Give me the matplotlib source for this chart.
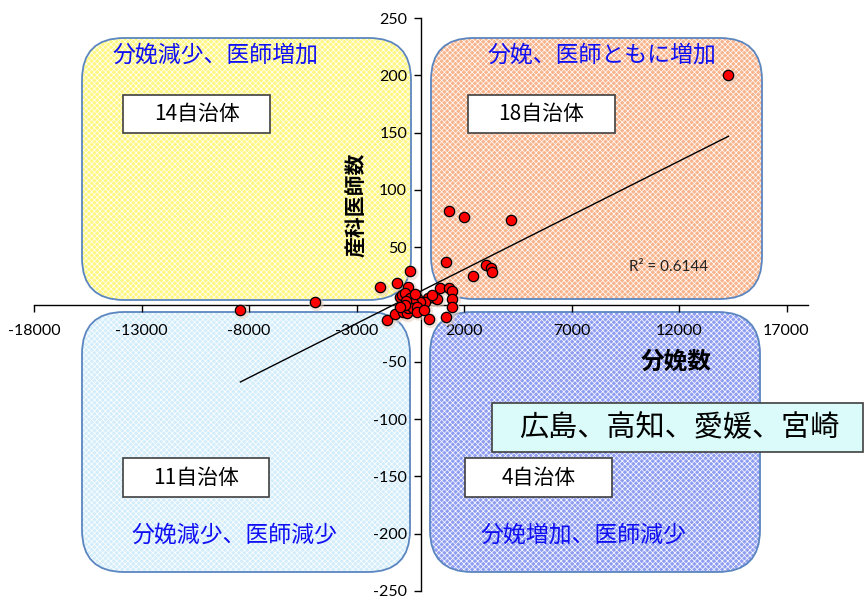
import matplotlib
matplotlib.use('Agg')
import matplotlib.pyplot as plt
from matplotlib.patches import FancyBboxPatch, Rectangle
import numpy as np

# ---- data (births change, obstetricians change) ----
q1_x = [14300, 1300, 2000, 4200, 1150, 3000, 3250, 3300, 2400, 880, 1300, 1450, 1450, 650, 340, 750, 180, 500]
q1_y = [200, 82, 76, 73.5, 37, 34.5, 31.5, 28, 24.5, 14.7, 14, 11.5, 5, 6, 6, 5, 2.4, 8]
q2_x = [-4930, -1900, -1130, -590, -510, -980, -900, -740, -510, -200, -50, -360, -700, -300]
q2_y = [2, 15, 18.5, 15, 29, 6.8, 8.5, 10, 5.4, 5.4, 2.4, 1, 3, 9]
q3_x = [-8400, -1600, -1210, -820, -670, -590, -360, -200, -200, -740, -1000]
q3_y = [-4.8, -13.5, -8.5, -6.3, -7.7, -3.3, -3.3, -1.9, -6.3, -0.5, -2]
q4_x = [1180, 1420, 360, 150]
q4_y = [-10.6, -2.6, -12.7, -4.5]

x_ticks = [-18000, -13000, -8000, -3000, 2000, 7000, 12000, 17000]
y_ticks = [-250, -200, -150, -100, -50, 0, 50, 100, 150, 200, 250]
x_label = "分娩数"
y_label = "産科医師数"
r2_label = "R² = 0.6144"
quad_titles = ["分娩減少、医師増加", "分娩、医師ともに増加", "分娩減少、医師減少", "分娩増加、医師減少"]
quad_counts = ["14自治体", "18自治体", "11自治体", "4自治体"]
callout = "広島、高知、愛媛、宮崎"

plt.rcParams['font.family'] = ['Lato', 'Noto Sans CJK JP']
CJK = ['Noto Sans CJK JP', 'DejaVu Sans']

W, H = 864, 603
fig = plt.figure(figsize=(W / 100, H / 100), dpi=100)
fig.patch.set_facecolor('white')

def inch(px, py):
    return px / 100.0, (H - py) / 100.0

def fx(px):
    return px / W

def fy(py):
    return 1 - py / H

# ---- quadrant rounded boxes (in figure pixel space) ----
boxes = [
    (82, 38, 411, 300, '#FFF77F'),   # yellow
    (431, 38, 762, 299, '#F8B48C'),  # orange
    (82, 312, 410, 572, '#D3EDFB'),  # light blue
    (430, 312, 760, 572, '#909EF2'), # blue
]
plt.rcParams['hatch.linewidth'] = 0.5
for (l, t, r, b, fc) in boxes:
    x0, y0 = inch(l, b)
    w = (r - l) / 100.0
    h = (b - t) / 100.0
    p = FancyBboxPatch((x0, y0), w, h, boxstyle='round,pad=0,rounding_size=0.42',
                       transform=fig.dpi_scale_trans, facecolor=fc, edgecolor='white',
                       linewidth=0, hatch='xxxxxx', zorder=-3)
    fig.add_artist(p)
    p2 = FancyBboxPatch((x0, y0), w, h, boxstyle='round,pad=0,rounding_size=0.42',
                        transform=fig.dpi_scale_trans, facecolor='none', edgecolor='#5B86C0',
                        linewidth=1.3, zorder=-2)
    fig.add_artist(p2)

# ---- axes ----
ax = fig.add_axes([34 / W, 1 - 591 / H, 774 / W, 573 / H])
ax.set_facecolor('none')
ax.set_xlim(-18000, 18000)
ax.set_ylim(-250, 250)
for s in ['top', 'right']:
    ax.spines[s].set_visible(False)
ax.spines['left'].set_position(('data', 0))
ax.spines['bottom'].set_position(('data', 0))
for s in ['left', 'bottom']:
    ax.spines[s].set_linewidth(1.0)
    ax.spines[s].set_color('black')
ax.set_xticks(x_ticks)
ax.set_xticklabels([str(v) for v in x_ticks])
ax.set_yticks(y_ticks)
ax.set_yticklabels([str(v) for v in y_ticks])
ax.tick_params(axis='x', direction='out', length=5, width=1, pad=9, labelsize=11.5)
ax.tick_params(axis='y', direction='out', length=5, width=1, pad=5, labelsize=11.5)

xs = np.array(q1_x + q2_x + q3_x + q4_x, dtype=float)
ys = np.array(q1_y + q2_y + q3_y + q4_y, dtype=float)

# soft shadow + markers
ax.scatter(xs + 70, ys - 1.5, s=110, c='#E9CDBE', alpha=0.55, edgecolors='none', zorder=4)
ax.scatter(xs, ys, s=55, c='#FF0000', edgecolors='black', linewidths=0.9, zorder=6)

coef = np.polyfit(xs, ys, 1)
lx = np.array([xs.min(), xs.max()])
ax.plot(lx, np.polyval(coef, lx), color='black', linewidth=1.0, zorder=5)

fig.text(fx(669), fy(267), r2_label, ha='center', va='center',
         fontsize=11, color='#222222')

# axis labels
fig.text(fx(676), fy(362), x_label, ha='center', va='center', fontsize=17,
         fontweight='bold', family=CJK)
fig.text(fx(357), fy(205), y_label, ha='center', va='center', fontsize=15,
         fontweight='bold', rotation=90, family=CJK)

# quadrant titles
title_pos = [(215, 55), (602, 55), (234, 535), (583, 535)]
for (px, py), t in zip(title_pos, quad_titles):
    fig.text(fx(px), fy(py), t, ha='center', va='center', fontsize=16.5,
             color='#1010F2', family=CJK, zorder=10)

# count boxes
count_boxes = [(123, 95, 270, 133), (468, 95, 615, 133), (123, 458, 269, 497), (465, 458, 612, 497)]
for (l, t, r, b), label in zip(count_boxes, quad_counts):
    rect = Rectangle((fx(l), fy(b)), (r - l) / W, (b - t) / H, transform=fig.transFigure,
                     facecolor='white', edgecolor='#404040', linewidth=1.2, zorder=9)
    fig.add_artist(rect)
    fig.text(fx((l + r) / 2), fy((t + b) / 2), label, ha='center', va='center',
             fontsize=15, family=CJK, zorder=10)

# callout
l, t, r, b = 492, 403, 863, 452
rect = Rectangle((fx(l), fy(b)), (r - l) / W, (b - t) / H, transform=fig.transFigure,
                 facecolor='#DBFBFA', edgecolor='#404040', linewidth=1.2, zorder=11)
fig.add_artist(rect)
fig.text(fx(679), fy(428), callout, ha='center', va='center', fontsize=21,
         family=CJK, zorder=12)

fig.savefig('out.png', dpi=100)
